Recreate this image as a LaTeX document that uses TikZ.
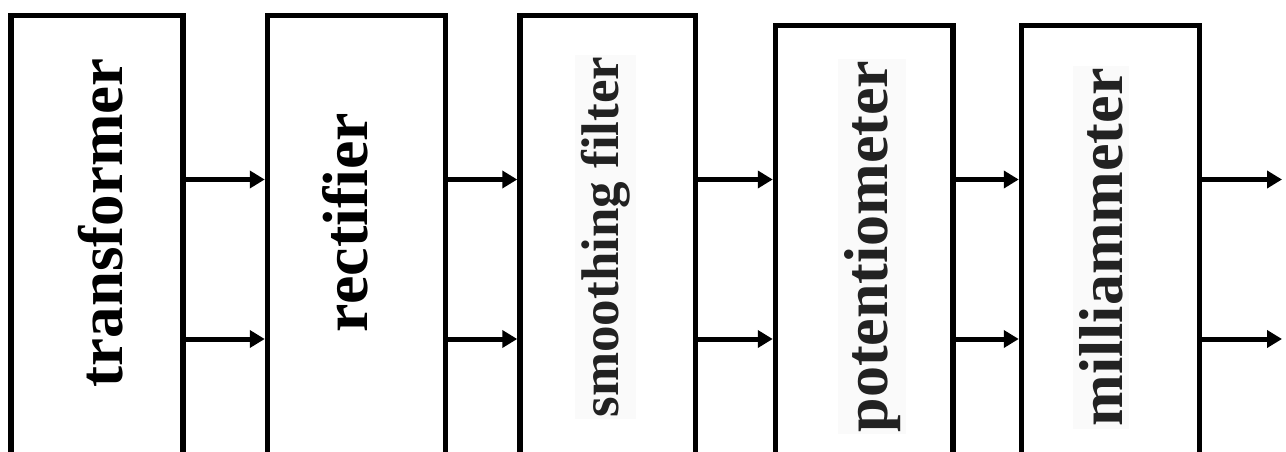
\documentclass[tikz,border=0pt]{standalone}
\usepackage{fontspec}
\setmainfont{Liberation Serif}
\usetikzlibrary{arrows.meta}
\definecolor{inkgray}{HTML}{222222}
\definecolor{labelbg}{HTML}{FAFAFA}
\newcommand{\nofi}{f\kern0pt i}
\begin{document}
\begin{tikzpicture}[x=1pt,y=-1pt,
  stage/.style={draw, line width=5.5pt, inner sep=0pt},
  tall/.style={stage, minimum height=479.5pt},
  short/.style={stage, minimum height=469.5pt},
  lbl/.style={rotate=90, anchor=base, inner sep=0pt, font=\fontsize{62}{62}\selectfont\bfseries},
  lblgray/.style={lbl, text=inkgray, fill=labelbg, inner xsep=2pt, inner ysep=6pt},
  arr/.style={line width=5pt, -{Triangle[length=15pt,width=17pt]}}]
\useasboundingbox (0,0) rectangle (1286,452);
\clip (0,0) rectangle (1286,452);

% the five stages (their lower edges run off the page)
\node[tall,  minimum width=172pt]   (b1) at (97,255.25)    {};
\node[tall,  minimum width=178pt]   (b2) at (356.5,255.25) {};
\node[tall,  minimum width=175.5pt] (b3) at (607.75,255.25) {};
\node[short, minimum width=177.5pt] (b4) at (864.25,260.25) {};
\node[short, minimum width=178pt]   (b5) at (1110.5,260.25) {};

% stage names
\node[lbl, font=\fontsize{63}{63}\selectfont\bfseries] (t1) at (122,223) {transformer};
\node[lbl, font=\fontsize{64}{64}\selectfont\bfseries] (t2) at (367,222.5) {recti\nofi er};
\node[lblgray, font=\fontsize{53}{53}\selectfont\bfseries] (t3) at (618,237) {smoothing \nofi lter};
\node[lblgray] (t4) at (887,246.5) {potentiometer};
\node[lblgray] (t5) at (1122,247.5) {milliammeter};

% signal lines between the stages
\coordinate (upper) at (0,179.5);
\coordinate (lower) at (0,339);
\coordinate (outU) at (1282,179.5);
\coordinate (outL) at (1282,339);
\foreach \a/\b in {b1/b2, b2/b3, b3/b4, b4/b5} {
  \draw[arr] (\a.east |- upper) -- (\b.west |- upper);
  \draw[arr] (\a.east |- lower) -- (\b.west |- lower);
}
\draw[arr] (b5.east |- upper) -- (outU);
\draw[arr] (b5.east |- lower) -- (outL);
\end{tikzpicture}
\end{document}
